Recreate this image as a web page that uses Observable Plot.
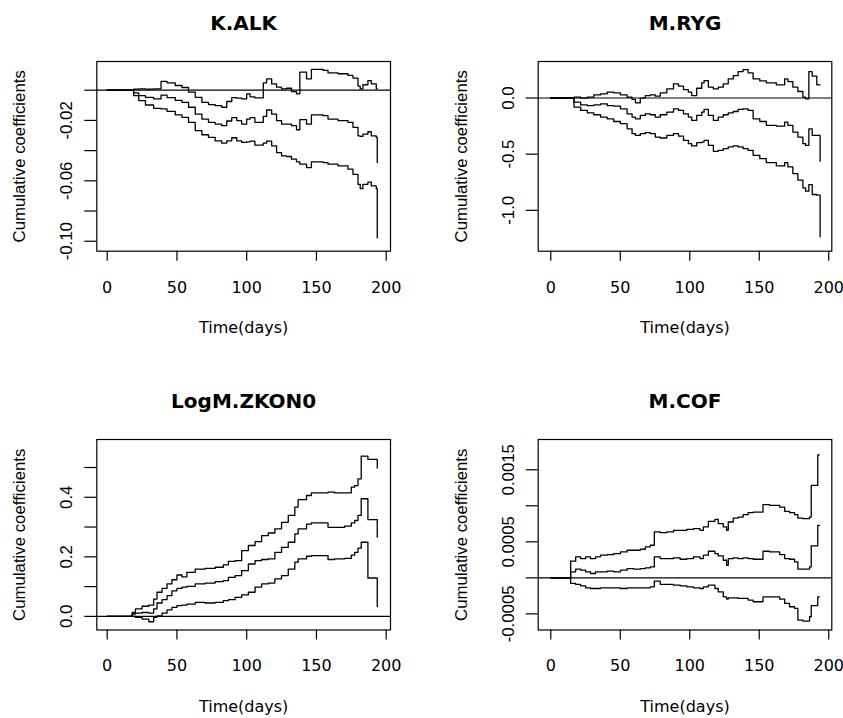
<!DOCTYPE html>
<html>
<head>
<meta charset="utf-8">
<script src="https://cdn.jsdelivr.net/npm/d3@7"></script>
<script src="https://cdn.jsdelivr.net/npm/@observablehq/plot@0.6"></script>
<style>
  html, body { margin: 0; padding: 0; background: white; }
  #wrap { position: relative; width: 843px; height: 718px; overflow: hidden; background: white; }
  #wrap svg { position: absolute; }
</style>
</head>
<body>
<div id="wrap"></div>
<script>
// ---------- shared axis values ----------
const xTicks = [0, 50, 100, 150, 200];
const xLabel = "Time(days)";
const yTitle = "Cumulative coefficients";

// ---------- K.ALK ----------
const kalkTime = [0,16.7,19.0,22.6,27.4,33.3,38.6,42.9,48.8,53.6,58.3,63.1,67.9,72.6,77.4,82.1,85.7,89.3,92.9,96.4,100,102.4,105.9,111.9,114.3,117.9,121.4,125,128.6,132.1,135.7,138.1,142.9,146.4,154.8,158.3,165.5,172.6,176.2,179.8,181.4,183.3,186.9,189.3,192.9,193.6];
const kalkUpper = [0,0,0.0007,0.0009,0.0007,0.0009,0.0058,0.0049,0.0031,0.0018,-0.0013,-0.0047,-0.008,-0.0095,-0.0102,-0.0113,-0.0075,-0.0049,-0.0053,-0.0058,-0.0024,-0.0044,-0.0051,0.0049,0.0075,0.0042,0.002,0.0009,0.0013,-0.0009,-0.0024,0.012,0.0075,0.0138,0.0131,0.0115,0.0109,0.0098,0.008,0.0027,0.0009,0.0036,0.0064,0.0042,0.0009,0.0009];
const kalkEst = [0,0,-0.0018,-0.0036,-0.0047,-0.0058,-0.0033,-0.0049,-0.0067,-0.008,-0.0113,-0.0158,-0.0191,-0.0213,-0.0224,-0.0235,-0.0204,-0.0182,-0.0202,-0.0224,-0.0191,-0.0182,-0.0213,-0.0173,-0.0131,-0.0158,-0.0202,-0.0224,-0.0224,-0.0235,-0.0262,-0.0195,-0.0224,-0.0164,-0.0169,-0.0191,-0.0202,-0.0213,-0.0246,-0.0302,-0.0306,-0.0291,-0.0275,-0.0302,-0.0313,-0.0479];
const kalkLower = [0,0,-0.0036,-0.0069,-0.0098,-0.012,-0.0124,-0.014,-0.0164,-0.018,-0.0213,-0.0268,-0.0295,-0.0313,-0.0335,-0.035,-0.0335,-0.0315,-0.0335,-0.0346,-0.0342,-0.0337,-0.0364,-0.035,-0.0337,-0.0368,-0.0413,-0.0435,-0.0439,-0.0457,-0.0475,-0.049,-0.0512,-0.0475,-0.0479,-0.049,-0.0501,-0.0523,-0.0557,-0.0623,-0.0652,-0.0623,-0.0608,-0.0634,-0.0652,-0.0978];
const kalkYTicks = [0, -0.02, -0.04, -0.06, -0.08, -0.10];
const kalkYLabels = ["", "-0.02", "", "-0.06", "", "-0.10"];

// ---------- M.RYG ----------
const rygTime = [0,14.3,16.7,21.5,26.3,31.0,35.8,40.6,45.3,50.1,54.9,58.5,60.9,64.4,68.0,71.6,75.2,78.8,83.5,88.3,91.9,95.5,99.0,101.4,105.0,108.6,110.3,113.4,117.0,120.5,124.1,127.7,131.3,134.8,138.4,142.0,145.6,150.4,155.1,162.3,168.3,170.6,174.2,177.8,181.4,183.3,185.7,188.1,191.4,193.8];
const rygUpper = [0,0,0.007,-0.001,0.007,0.028,0.037,0.052,0.046,0.028,0.007,-0.013,-0.043,-0.001,0.022,0.028,0.016,0.046,0.081,0.126,0.105,0.075,0.052,0.022,0.087,0.135,0.155,0.096,0.081,0.096,0.126,0.170,0.200,0.235,0.253,0.223,0.170,0.152,0.134,0.117,0.170,0.146,0.096,0.058,0.007,-0.007,0.235,0.194,0.117,0.117];
const rygEst = [0,0,-0.037,-0.061,-0.067,-0.061,-0.052,-0.067,-0.072,-0.096,-0.141,-0.170,-0.185,-0.155,-0.141,-0.149,-0.170,-0.149,-0.126,-0.096,-0.111,-0.141,-0.170,-0.200,-0.155,-0.126,-0.102,-0.155,-0.200,-0.170,-0.149,-0.132,-0.120,-0.102,-0.096,-0.111,-0.185,-0.209,-0.244,-0.250,-0.214,-0.244,-0.303,-0.348,-0.407,-0.422,-0.274,-0.333,-0.333,-0.564];
const rygLower = [0,0,-0.081,-0.111,-0.132,-0.149,-0.170,-0.185,-0.209,-0.229,-0.274,-0.318,-0.333,-0.318,-0.309,-0.318,-0.348,-0.356,-0.333,-0.318,-0.339,-0.377,-0.407,-0.427,-0.398,-0.392,-0.377,-0.422,-0.475,-0.466,-0.451,-0.436,-0.427,-0.436,-0.451,-0.466,-0.510,-0.540,-0.575,-0.605,-0.575,-0.614,-0.673,-0.732,-0.800,-0.830,-0.771,-0.859,-0.865,-1.235];
const rygYTicks = [0, -0.5, -1.0];
const rygYLabels = ["0.0", "-0.5", "-1.0"];

// ---------- LogM.ZKON0 ----------
const zkonTime = [0,16.7,17.9,20.2,25,29.8,33.3,35.7,39.3,42.9,46.4,50,53.6,57.1,63.1,70.2,77.4,83.3,86.9,91.7,96.4,101.2,106,110.7,115.5,120.2,125,129.8,134.5,136.9,142.9,146.4,153.6,158.3,163.1,170.2,175,177.4,179.8,182.1,186.9,193.6];
const zkonUpper = [0,0,0.013,0.025,0.034,0.038,0.058,0.081,0.094,0.109,0.123,0.139,0.133,0.148,0.159,0.161,0.165,0.173,0.185,0.187,0.221,0.238,0.251,0.271,0.280,0.294,0.316,0.339,0.367,0.392,0.406,0.415,0.415,0.417,0.415,0.415,0.434,0.439,0.462,0.538,0.527,0.498];
const zkonEst = [0,0,0.008,0.011,0.013,0.011,0.025,0.045,0.056,0.070,0.086,0.094,0.098,0.101,0.109,0.112,0.117,0.120,0.131,0.137,0.154,0.176,0.187,0.191,0.193,0.215,0.232,0.249,0.277,0.294,0.310,0.314,0.314,0.299,0.299,0.303,0.314,0.322,0.339,0.395,0.325,0.266];
const zkonLower = [0,0,0,-0.003,-0.009,-0.018,-0.003,0.002,0.011,0.022,0.030,0.036,0.038,0.041,0.047,0.045,0.047,0.053,0.056,0.064,0.072,0.081,0.098,0.109,0.112,0.126,0.137,0.159,0.182,0.193,0.202,0.204,0.204,0.191,0.193,0.195,0.206,0.215,0.229,0.249,0.129,0.033];
const zkonYTicks = [0, 0.1, 0.2, 0.3, 0.4, 0.5];
const zkonYLabels = ["0.0", "", "0.2", "", "0.4", ""];

// ---------- M.COF ----------
const cofTime = [0,14.3,17.9,21.5,25.1,28.6,32.2,35.8,40.6,45.3,50.1,54.9,59.7,64.4,68.0,71.6,74.5,78.8,83.5,88.3,93.1,97.9,102.6,107.4,109.8,113.4,118.1,120.5,124.1,126.5,127.7,131.3,134.8,138.4,142.0,145.6,152.7,157.5,164.7,168.3,171.8,175.4,177.8,181.4,186.2,187.4,192.1,193.3];
const cofUpper = [0,0.000231,0.000291,0.000268,0.000291,0.000268,0.000291,0.000314,0.000323,0.000337,0.00036,0.000383,0.000383,0.000397,0.000429,0.000452,0.000637,0.000627,0.000637,0.00066,0.00066,0.000673,0.000683,0.00066,0.000706,0.000784,0.000812,0.000752,0.000706,0.00066,0.000775,0.00083,0.000844,0.000876,0.000904,0.000913,0.001015,0.001006,0.000982,0.000923,0.000904,0.000876,0.00083,0.000821,0.000844,0.001282,0.001707,0.001707];
const cofEst = [0,0.000083,0.00012,0.000106,0.000083,0.00006,0.000083,0.000083,0.000092,0.000083,0.000106,0.000129,0.00012,0.000129,0.000138,0.000152,0.000291,0.000268,0.000268,0.000277,0.000258,0.000268,0.000291,0.000268,0.000314,0.000369,0.000337,0.000304,0.000244,0.000175,0.000268,0.000277,0.000268,0.000277,0.000268,0.000258,0.000369,0.00036,0.000323,0.000268,0.000258,0.000221,0.00012,0.00012,0.000152,0.000443,0.000729,0.000729];
const cofLower = [0,-0.000078,-0.000092,-0.000111,-0.000138,-0.000148,-0.000148,-0.000138,-0.000138,-0.000138,-0.000148,-0.000138,-0.000138,-0.000138,-0.000138,-0.000125,-0.000046,-0.000092,-0.000092,-0.000101,-0.000111,-0.000125,-0.000138,-0.000148,-0.000125,-0.000101,-0.000148,-0.000194,-0.000263,-0.000295,-0.000277,-0.000277,-0.000286,-0.000286,-0.000309,-0.000332,-0.000263,-0.000263,-0.000295,-0.000355,-0.000401,-0.000424,-0.000586,-0.0006,-0.00054,-0.000387,-0.000263,-0.000263];
const cofYTicks = [-0.0005, 0, 0.0005, 0.001, 0.0015];
const cofYLabels = ["-0.0005", "", "0.0005", "", "0.0015"];

// ---------- drawing ----------
function panel(o) {
  const rows = o.time.map((t, i) => ({t, est: o.est[i], lo: o.lower[i], up: o.upper[i]}));
  const labelled = o.yTicks.map((v, i) => ({v, s: o.yLabels[i]})).filter(d => d.s !== "");
  const line = k => Plot.line(rows, {x: "t", y: k, curve: "step-after", stroke: "black", strokeWidth: 1.3});
  const svg = Plot.plot({
    width: o.w, height: o.h,
    marginLeft: o.ml, marginRight: o.mr, marginTop: o.mt, marginBottom: o.mb,
    style: {fontFamily: "DejaVu Sans", fontSize: "16px", background: "white", color: "black", overflow: "visible"},
    x: {domain: o.xDomain},
    y: {domain: o.yDomain},
    marks: [
      Plot.ruleY([0], {stroke: "black", strokeWidth: 1.2}),
      line("up"), line("est"), line("lo"),
      Plot.frame({stroke: "black", strokeWidth: 1.2}),
      Plot.axisX({ticks: xTicks, tickSize: 10, tickPadding: 20, tickFormat: d => String(d), label: null, strokeWidth: 1.2, fontSize: 16}),
      Plot.axisY({ticks: o.yTicks, tickSize: 12, tickFormat: () => "", label: null, strokeWidth: 1.2}),
      Plot.text(labelled, {y: "v", text: "s", frameAnchor: "left", dx: -24.6, rotate: -90, textAnchor: "middle", lineAnchor: "bottom", fontFamily: "Liberation Sans", fontSize: 16.8, fill: "black"}),
      Plot.text([o.title], {frameAnchor: "top", dy: -32, lineAnchor: "bottom", fontSize: 20, fontWeight: "bold", fill: "black"}),
      Plot.text([xLabel], {frameAnchor: "bottom", dy: 81.5, lineAnchor: "bottom", fontSize: 16, fill: "black"}),
      Plot.text([yTitle], {frameAnchor: "left", dx: -71.5, rotate: -90, textAnchor: "middle", lineAnchor: "bottom", fontFamily: "Liberation Sans", fontSize: 16.8, fill: "black"})
    ]
  });
  svg.style.left = o.left + "px";
  svg.style.top = o.top + "px";
  return svg;
}

const wrap = document.getElementById("wrap");
const xdL = [-7.46, 203.1], xdR = [-9.05, 202.2];
wrap.appendChild(panel({title: "K.ALK", time: kalkTime, est: kalkEst, lower: kalkLower, upper: kalkUpper,
  xDomain: xdL, yDomain: [-0.1066, 0.0190], yTicks: kalkYTicks, yLabels: kalkYLabels,
  w: 421, h: 359, ml: 96.3, mr: 31, mt: 61, mb: 108.3, left: 0, top: 0}));
wrap.appendChild(panel({title: "M.RYG", time: rygTime, est: rygEst, lower: rygLower, upper: rygUpper,
  xDomain: xdR, yDomain: [-1.364, 0.325], yTicks: rygYTicks, yLabels: rygYLabels,
  w: 422, h: 359, ml: 116.7, mr: 11.7, mt: 61, mb: 108.3, left: 421, top: 0}));
wrap.appendChild(panel({title: "LogM.ZKON0", time: zkonTime, est: zkonEst, lower: zkonLower, upper: zkonUpper,
  xDomain: xdL, yDomain: [-0.0457, 0.594], yTicks: zkonYTicks, yLabels: zkonYLabels,
  w: 421, h: 359, ml: 96.3, mr: 31, mt: 80, mb: 88.5, left: 0, top: 359}));
wrap.appendChild(panel({title: "M.COF", time: cofTime, est: cofEst, lower: cofLower, upper: cofUpper,
  xDomain: xdR, yDomain: [-0.000724, 0.00192], yTicks: cofYTicks, yLabels: cofYLabels,
  w: 422, h: 359, ml: 116.7, mr: 11.7, mt: 80, mb: 88.5, left: 421, top: 359}));
</script>
</body>
</html>
